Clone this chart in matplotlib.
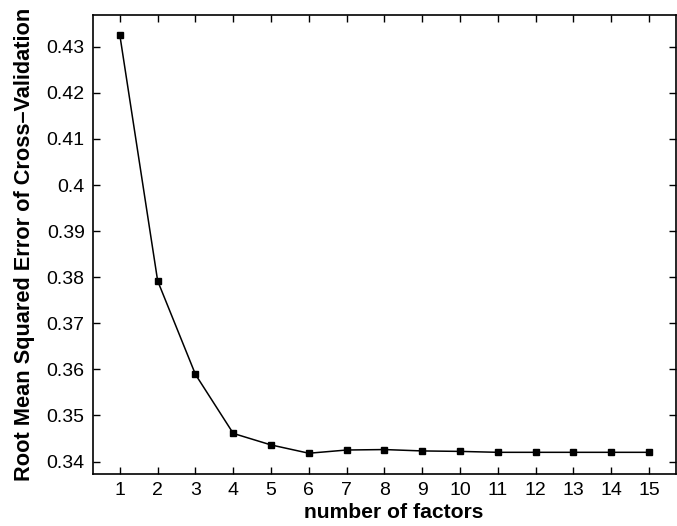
import matplotlib
matplotlib.use("Agg")
import matplotlib.pyplot as plt

# valores
fatores = list(range(1, 16))
rmsecv = [0.4325, 0.3792, 0.3589, 0.3461, 0.3436, 0.3418, 0.3425, 0.3426,
          0.3423, 0.3422, 0.3420, 0.3420, 0.3420, 0.3420, 0.3420]
yticks = [0.34, 0.35, 0.36, 0.37, 0.38, 0.39, 0.4, 0.41, 0.42, 0.43]
ytick_labels = ['0.34', '0.35', '0.36', '0.37', '0.38', '0.39', '0.4', '0.41', '0.42', '0.43']

plt.rcParams['font.family'] = ['Liberation Sans', 'DejaVu Sans']

fig = plt.figure(figsize=(6.77, 5.26), dpi=100)
ax = fig.add_axes([0.1374, 0.0989, 0.861, 0.8726])

ax.plot(fatores, rmsecv, color='black', linewidth=1.1, marker='s',
        markersize=4, markerfacecolor='black', markeredgecolor='black')

ax.set_xlim(0.29, 15.71)
ax.set_ylim(0.3373, 0.4369)
ax.set_xticks(fatores)
ax.set_yticks(yticks)
ax.set_yticklabels(ytick_labels)

ax.tick_params(direction='in', top=True, right=True, length=5, width=1,
               labelsize=14, pad=6)
for s in ax.spines.values():
    s.set_linewidth(1.2)

ax.set_xlabel('number of factors', fontsize=15.2, fontweight='bold')
ax.xaxis.set_label_coords(0.515, -0.064)
ax.set_ylabel('Root Mean Squared Error of Cross\u2013Validation', fontsize=15.7,
              fontweight='bold', labelpad=8)

fig.savefig('out.png', dpi=100)
